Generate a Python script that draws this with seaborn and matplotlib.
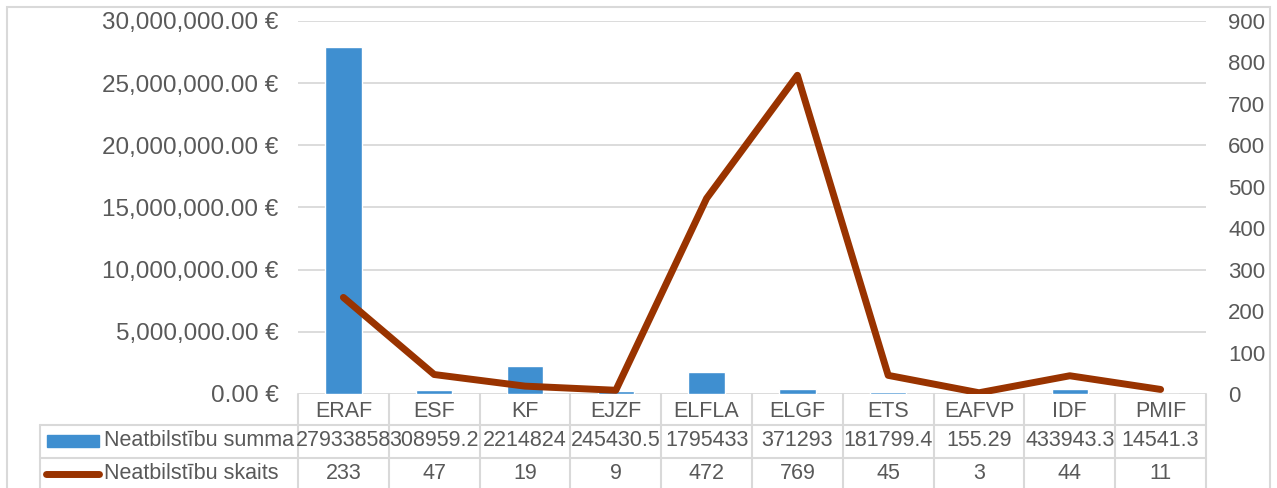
import numpy as np
import pandas as pd
import seaborn as sns
import matplotlib.pyplot as plt
from matplotlib.patches import Rectangle
from matplotlib.ticker import FuncFormatter, MultipleLocator
import matplotlib.transforms as mtransforms

funds = ['ERAF', 'ESF', 'KF', 'EJZF', 'ELFLA', 'ELGF', 'ETS', 'EAFVP', 'IDF', 'PMIF']
summa = [27933858, 308959.2, 2214824, 245430.5, 1795433, 371293, 181799.4, 155.29, 433943.3, 14541.3]
skaits = [233, 47, 19, 9, 472, 769, 45, 3, 44, 11]
summa_label = 'Neatbilstību summa'
skaits_label = 'Neatbilstību skaits'

BAR_COLOR = '#3F8FD0'
LINE_COLOR = '#993300'
GRID = '#D9D9D9'
TXT = '#595959'

sns.set_theme(style='white')
plt.rcParams['font.family'] = ['Liberation Sans', 'DejaVu Sans']

df = pd.DataFrame({'fonds': funds, 'summa': summa, 'skaits': skaits})

fig = plt.figure(figsize=(12.77, 4.88), dpi=100)
ax = fig.add_axes([298 / 1277, 94 / 488, 908 / 1277, 373 / 488])

# outer chart border
fig.patches.append(Rectangle((7 / 1277, -0.05), 1263 / 1277, 1.05 - 7 / 488,
                             transform=fig.transFigure, fill=False,
                             edgecolor=GRID, linewidth=1.5))

sns.barplot(data=df, x='fonds', y='summa', color=BAR_COLOR, width=0.4,
            saturation=1, ax=ax, zorder=3)
ax.set_xlim(-0.5, len(funds) - 0.5)
ax.set_ylim(0, 30_000_000)
ax.yaxis.set_major_locator(MultipleLocator(5_000_000))
ax.yaxis.set_major_formatter(FuncFormatter(lambda v, p: f'{v:,.2f} €'))
ax.grid(axis='y', color=GRID, linewidth=1.3, zorder=0)
ax.set_axisbelow(True)
for s in ax.spines.values():
    s.set_visible(False)
ax.set_xlabel('')
ax.set_ylabel('')
ax.tick_params(axis='y', length=0, pad=14, labelsize=17.5, labelcolor=TXT)
ax.tick_params(axis='x', length=0, pad=5, labelsize=15.5, labelcolor=TXT)

ax2 = ax.twinx()
sns.lineplot(x=np.arange(len(funds)), y=df['skaits'], color=LINE_COLOR,
             linewidth=5, ax=ax2, solid_capstyle='round', solid_joinstyle='round')
ax2.set_ylim(0, 900)
ax2.yaxis.set_major_locator(MultipleLocator(100))
ax2.tick_params(axis='y', length=0, pad=16, labelsize=16, labelcolor=TXT)
ax2.set_ylabel('')
for s in ax2.spines.values():
    s.set_visible(False)
ax2.grid(False)

# data table below the plot
tr = mtransforms.blended_transform_factory(ax.transData, ax.transAxes)
row_y = [-0.0831, -0.1716]
label_x = -0.2841
for y in row_y:
    ax.plot([label_x, 1], [y, y], color=GRID, lw=1.5, transform=ax.transAxes, clip_on=False)
ax.plot([label_x, label_x], [row_y[0], -0.3], color=GRID, lw=1.5,
        transform=ax.transAxes, clip_on=False)
for i in range(len(funds) + 1):
    ax.plot([i - 0.5, i - 0.5], [0, -0.3], color=GRID, lw=1.5, transform=tr, clip_on=False)


def fmt(v):
    return str(int(v)) if float(v).is_integer() else str(v)


for i in range(len(funds)):
    ax.text(i, -0.126, fmt(summa[i]), transform=tr, ha='center', va='center',
            fontsize=15.5, color=TXT, clip_on=False)
    ax.text(i, -0.214, fmt(skaits[i]), transform=tr, ha='center', va='center',
            fontsize=15.5, color=TXT, clip_on=False)

ax.add_patch(Rectangle((-0.2764, -0.141), 0.0572, 0.030, transform=ax.transAxes,
                       color=BAR_COLOR, clip_on=False))
ax.plot([-0.2775, -0.2195], [-0.214, -0.214], color=LINE_COLOR, lw=5,
        solid_capstyle='round', transform=ax.transAxes, clip_on=False)
ax.text(-0.2137, -0.126, summa_label, transform=ax.transAxes, ha='left', va='center',
        fontsize=15.5, color=TXT)
ax.text(-0.2137, -0.214, skaits_label, transform=ax.transAxes, ha='left', va='center',
        fontsize=15.5, color=TXT)

fig.savefig('out.png', dpi=100)
